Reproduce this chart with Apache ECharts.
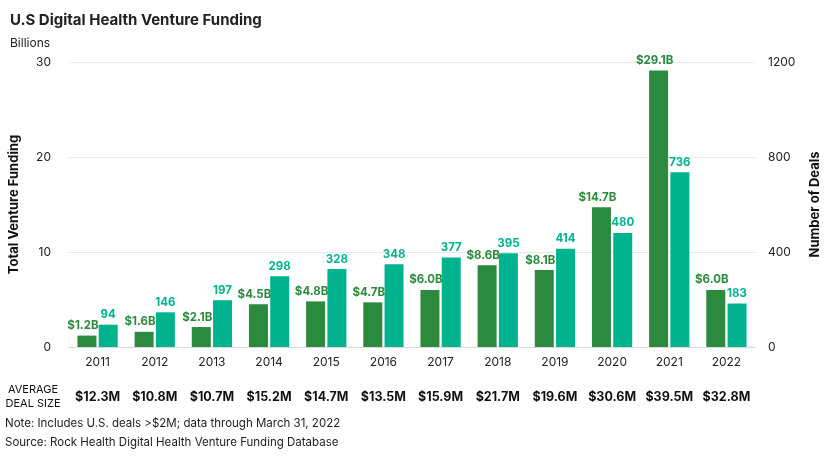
<!DOCTYPE html>
<html><head><meta charset="utf-8">
<script src="https://cdn.jsdelivr.net/npm/echarts@6/dist/echarts.min.js"></script>
<style>html,body{margin:0;padding:0;background:#fff}#c{width:830px;height:462px}</style>
</head><body><div id="c"></div>
<script>
const years = ['2011','2012','2013','2014','2015','2016','2017','2018','2019','2020','2021','2022'];
const funding = [1.2, 1.6, 2.1, 4.5, 4.8, 4.7, 6.0, 8.6, 8.1, 14.7, 29.1, 6.0];
const deals = [94, 146, 197, 298, 328, 348, 377, 395, 414, 480, 736, 183];
const avgDeal = ['$12.3M','$10.8M','$10.7M','$15.2M','$14.7M','$13.5M','$15.9M','$21.7M','$19.6M','$30.6M','$39.5M','$32.8M'];
const leftTicks = [0, 10, 20, 30];
const rightTicks = [0, 400, 800, 1200];

const F = 'Inter, "Open Sans", sans-serif';
const GREEN = '#2b8a3e', TEAL = '#00b38f';
const chart = echarts.init(document.getElementById('c'));
chart.setOption({
  animation: false,
  textStyle: { fontFamily: F },
  title: { text: 'U.S Digital Health Venture Funding', left: 5, top: 8,
    textStyle: { fontFamily: F, fontSize: 15, fontWeight: 'bold', color: '#222' } },
  grid: { left: 65, right: 75, top: 62, bottom: 115 },
  xAxis: [
    { type: 'category', data: years, position: 'bottom',
      axisLine: { lineStyle: { color: '#d9d9d9' } }, axisTick: { show: false },
      axisLabel: { color: '#222', fontSize: 12, margin: 9, fontFamily: F, interval: 0 } },
    { type: 'category', data: avgDeal, position: 'bottom', offset: 36,
      axisLine: { show: false }, axisTick: { show: false },
      axisLabel: { color: '#111', fontSize: 12.5, fontWeight: 'bold', fontFamily: F, interval: 0 } }
  ],
  yAxis: [
    { type: 'value', min: leftTicks[0], max: leftTicks[leftTicks.length-1], interval: 10,
      name: 'Total Venture Funding', nameLocation: 'middle', nameGap: 48, nameRotate: 90,
      nameTextStyle: { fontSize: 13, fontWeight: 'bold', color: '#111', fontFamily: F },
      axisLabel: { color: '#222', fontSize: 12, margin: 18 },
      axisLine: { show: false }, axisTick: { show: false },
      splitLine: { lineStyle: { color: '#e8e8e8' } } },
    { type: 'value', min: rightTicks[0], max: rightTicks[rightTicks.length-1], interval: 400,
      name: 'Number of Deals', nameLocation: 'middle', nameGap: 54, nameRotate: 90,
      nameTextStyle: { fontSize: 13, fontWeight: 'bold', color: '#111', fontFamily: F },
      axisLabel: { color: '#222', fontSize: 12, margin: 13, formatter: v => String(v) },
      axisLine: { show: false }, axisTick: { show: false }, splitLine: { show: false } }
  ],
  series: [
    { type: 'bar', data: funding, yAxisIndex: 0, xAxisIndex: 0, barWidth: 19, barGap: '12%',
      itemStyle: { color: GREEN },
      label: { show: true, position: 'top', distance: 4, offset: [-4, 0], color: GREEN, fontSize: 11.5, fontWeight: 'bold',
        fontFamily: F, formatter: p => '$' + p.value.toFixed(1) + 'B' } },
    { type: 'bar', data: deals, yAxisIndex: 1, xAxisIndex: 0, barWidth: 19,
      itemStyle: { color: TEAL },
      label: { show: true, position: 'top', distance: 4, color: TEAL, fontSize: 11.5, fontWeight: 'bold', fontFamily: F } }
  ],
  graphic: [
    { type: 'text', left: 10, top: 37, style: { text: 'Billions', fontSize: 12, fill: '#222', fontFamily: F } },
    { type: 'text', x: 33, y: 383, style: { text: 'AVERAGE\nDEAL SIZE', fontSize: 11, lineHeight: 14, fill: '#111', fontFamily: F, align: 'center' } },
    { type: 'text', left: 5, top: 418, style: { text: 'Note: Includes U.S. deals >$2M; data through March 31, 2022', fontSize: 11.5, fill: '#222', fontFamily: F } },
    { type: 'text', left: 5, top: 437, style: { text: 'Source: Rock Health Digital Health Venture Funding Database', fontSize: 11.5, fill: '#222', fontFamily: F } }
  ]
});
</script></body></html>
